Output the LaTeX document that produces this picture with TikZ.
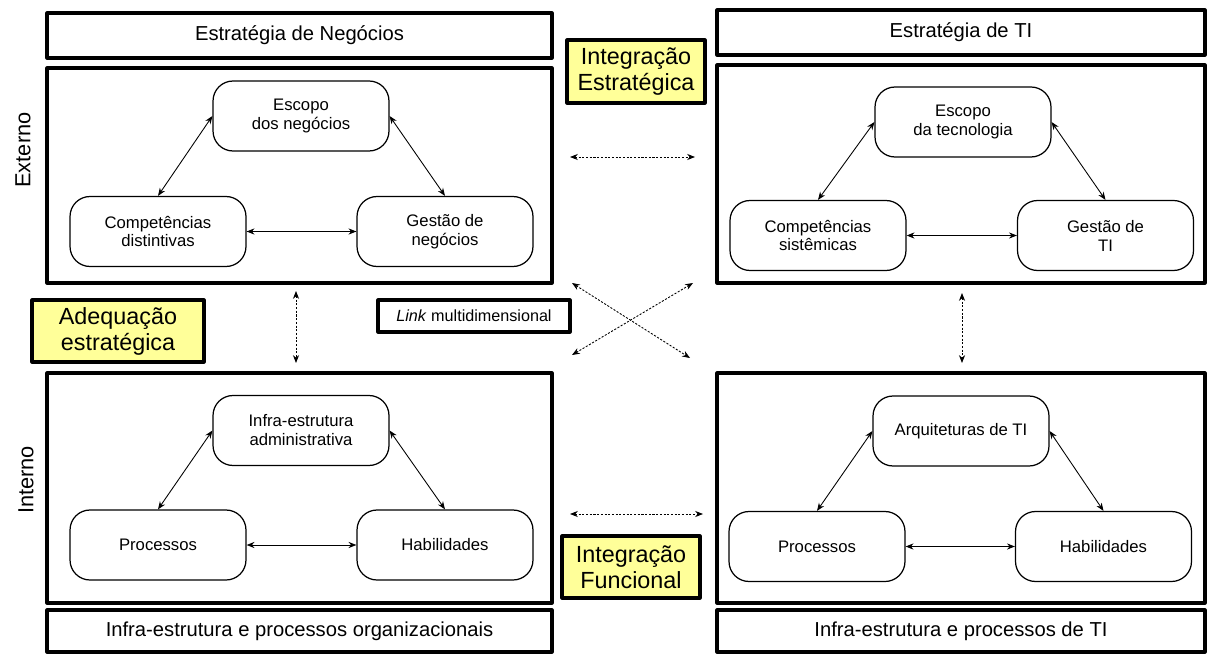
\documentclass[tikz,border=0pt]{standalone}
\usepackage{fontspec}
\setmainfont{Liberation Sans}
\usetikzlibrary{arrows.meta}
\definecolor{amarelo}{RGB}{255,255,153}
\begin{document}
\begin{tikzpicture}[x=0.02cm, y=-0.02cm, >={Stealth[length=4.5pt,width=3.5pt]}, line join=round,
	caixa/.style={draw, line width=1.8pt, inner sep=0pt, font=\fontsize{11.5}{13}\selectfont},
	bloco/.style={draw, rounded corners=0.4cm, line width=0.7pt, minimum width=3.52cm, minimum height=1.4cm, align=center, inner sep=0pt, font=\fontsize{9.5}{10.8}\selectfont},
	destaque/.style={draw, line width=1.8pt, fill=amarelo, align=center, inner sep=0pt, font=\fontsize{13.3}{14.8}\selectfont},
	rotulo/.style={rotate=90, font=\fontsize{12.4}{14}\selectfont},
	seta/.style={<->, line width=0.5pt},
	pontilhada/.style={<->, line width=0.5pt, dash pattern=on 1.2pt off 0.9pt}]
		
		\useasboundingbox (0,0) rectangle (1207,655);
		
		% negocios
		\node[caixa, minimum width=10.1cm, minimum height=0.9cm] (negocios) at (299.5,35.5) {Estratégia de Negócios};
		\node[caixa, minimum width=10.1cm, minimum height=4.3cm] (extL) at (299.5,175.5) {};
		\node[bloco] (escN) at (301,116) {Escopo\\dos negócios};
		\node[bloco] (compN) at (158,231.5) {Competências\\distintivas};
		\node[bloco] (gestN) at (445,231.5) {Gestão de\\negócios};
		
		\node[caixa, minimum width=10.1cm, minimum height=4.6cm] (intL) at (299.5,488) {};
		\node[bloco] (infraN) at (301,430.5) {Infra-estrutura\\administrativa};
		\node[bloco] (procL) at (158,545) {Processos};
		\node[bloco] (habL) at (445,545) {Habilidades};
		\node[caixa, minimum width=10.1cm, minimum height=0.84cm] (org) at (299.5,631) {Infra-estrutura e processos organizacionais};
		
		% TI
		\node[caixa, minimum width=9.76cm, minimum height=0.9cm] (ti) at (961,32.5) {Estratégia de TI};
		\node[caixa, minimum width=9.76cm, minimum height=4.36cm] (extR) at (961,174) {};
		\node[bloco] (escTI) at (963,122) {Escopo\\da tecnologia};
		\node[bloco] (compTI) at (818,235.5) {Competências\\sistêmicas};
		\node[bloco] (gestTI) at (1105.5,235.5) {Gestão de\\TI};
		
		\node[caixa, minimum width=9.76cm, minimum height=4.6cm] (intR) at (961,488) {};
		\node[bloco] (arqTI) at (961,431) {Arquiteturas de TI};
		\node[bloco] (procR) at (817,546.5) {Processos};
		\node[bloco] (habR) at (1103.5,546.5) {Habilidades};
		\node[caixa, minimum width=9.76cm, minimum height=0.84cm] (tiInfra) at (961,631) {Infra-estrutura e processos de TI};
		
		\foreach \c/\e/\d in {escN/compN/gestN, infraN/procL/habL, escTI/compTI/gestTI, arqTI/procR/habR} {
			\draw[seta] (\c.west) -- (\e.north);
			\draw[seta] (\c.east) -- (\d.north);
			\draw[seta] (\e.east) -- (\d.west);
		}
		
		\node[rotulo] (externo) at (23,150) {Externo};
		\node[rotulo] (interno) at (26,480) {Interno};
		
		\node[destaque, minimum width=2.76cm, minimum height=1.26cm] (intEst) at (636,71.5) {Integração\\Estratégica};
		\node[destaque, minimum width=2.76cm, minimum height=1.24cm] (intFun) at (631,567) {Integração\\Funcional};
		\node[destaque, minimum width=3.44cm, minimum height=1.24cm] (adeq) at (118,331) {Adequação\\estratégica};
		\node[caixa, minimum width=3.84cm, minimum height=0.64cm, font=\fontsize{9.2}{11}\selectfont] (link) at (474,316) {\textit{Link} multidimensional};
		
		\coordinate (a1) at (570,157);
		\coordinate (a2) at (695,157);
		\coordinate (b1) at (570,514);
		\coordinate (b2) at (703,514);
		\coordinate (c1) at (296,291);
		\coordinate (c2) at (296,363);
		\coordinate (d1) at (962,293);
		\coordinate (d2) at (962,363);
		\coordinate (x1) at (572,283);
		\coordinate (x2) at (690,358);
		\coordinate (x3) at (572,355);
		\coordinate (x4) at (693,283);
		
		\foreach \p/\q in {a1/a2, b1/b2, c1/c2, d1/d2, x1/x2, x3/x4}
			\draw[pontilhada] (\p) -- (\q);
		
	\end{tikzpicture}
\end{document}
